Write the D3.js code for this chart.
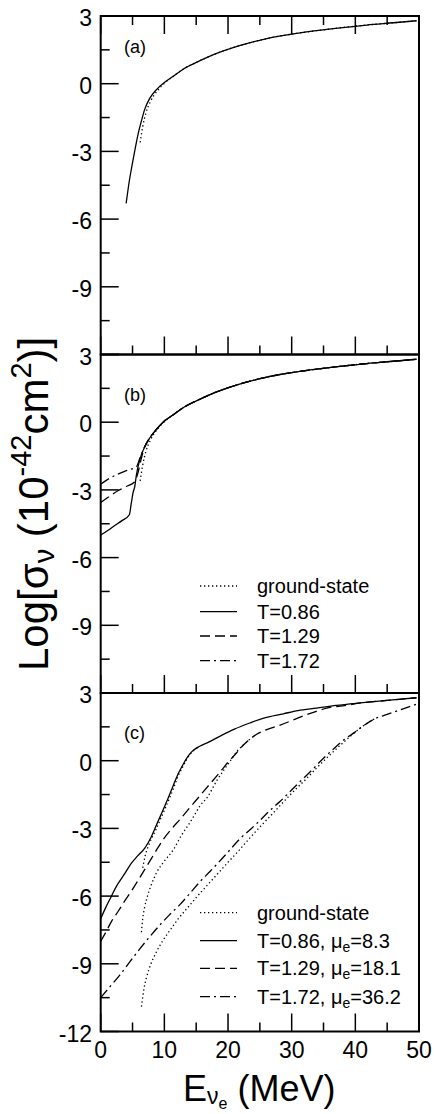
<!DOCTYPE html>
<html><head><meta charset="utf-8">
<script src="https://cdn.jsdelivr.net/npm/d3@7/dist/d3.min.js"></script>
<style>
body{margin:0;background:#fff}
svg{display:block}
text{font-family:"Liberation Sans",Arial,Helvetica,sans-serif;fill:#000}
</style>
</head><body>
<svg id="chart" width="437" height="1114"></svg>
<script>
// ---------------- data ----------------
const xMajorTicks = [0,10,20,30,40,50];
const xMinorTicks = [5,15,25,35,45];
const yMajorTicks = [3,0,-3,-6,-9,-12];
const yMinorTicks = [1.5,-1.5,-4.5,-7.5,-10.5];
const yLabelsAB = [3,0,-3,-6,-9];
const yLabelsC = [3,0,-3,-6,-9,-12];
const panelLabels = ["(a)","(b)","(c)"];

// shared high-energy branch (E, log sigma)
const upperBranch = [[11.4,0.33],[13,0.65],[15.6,1.02],[18,1.32],[20.8,1.6],[23.5,1.82],[26.1,2.0],[31.3,2.25],[36.5,2.44],[41.8,2.6],[46,2.7],[49.6,2.79]];

// panel (a)
const aSolid = [[4.0,-5.3],[4.5,-4.3],[4.9,-3.65],[5.4,-2.9],[5.9,-2.2],[6.4,-1.65],[6.9,-1.15],[7.7,-0.65],[8.8,-0.25],[10,0.05]];
const aGround = [[6.2,-2.6],[6.6,-1.9],[7.1,-1.3],[7.8,-0.8],[8.8,-0.35],[10,0.02]];

// panel (b)
const bSolid = [[0,-5.0],[1.1,-4.8],[2.2,-4.58],[3.4,-4.35],[4.5,-4.1],[4.8,-3.6],[5.1,-3.1],[5.35,-2.85],[5.6,-2.35],[6.1,-1.7],[6.9,-1.1],[7.7,-0.7],[8.8,-0.3],[10,0.05]];
const bDashed = [[0,-3.56],[1.3,-3.3],[2.7,-3.04],[4.0,-2.85],[5.3,-2.65],[5.8,-2.3],[6.3,-1.7],[6.9,-1.1],[7.7,-0.7],[8.8,-0.3],[10,0.05]];
const bDashDot = [[0,-2.75],[1.3,-2.5],[2.7,-2.3],[4.2,-2.13],[5.6,-1.98],[6.2,-1.55],[6.9,-1.1],[7.7,-0.7],[8.8,-0.3],[10,0.05]];
const bGround = [[6.2,-2.6],[6.6,-1.9],[7.1,-1.3],[7.8,-0.8],[8.8,-0.35],[10,0.02]];

// panel (c)
const cSolid = [[0,-7.0],[0.8,-6.5],[1.6,-6.05],[2.4,-5.6],[3.2,-5.25],[4.0,-4.9],[4.8,-4.55],[5.8,-4.22],[6.9,-3.88],[7.9,-3.4],[8.6,-2.95],[9.3,-2.5],[10.0,-2.05],[10.6,-1.65],[11.4,-1.1],[12.1,-0.62],[12.8,-0.24],[13.4,0.06],[14.0,0.3],[14.6,0.47],[15.3,0.6],[16.0,0.7],[16.8,0.8],[18.7,1.08],[21,1.4],[23.5,1.68],[25.5,1.88],[28.7,2.08],[31,2.22],[33.9,2.33],[37,2.45],[41.2,2.57],[45,2.67],[49.6,2.79]];
const cDashed = [[0,-8.0],[0.9,-7.55],[1.7,-7.12],[2.8,-6.65],[3.8,-6.2],[5.0,-5.7],[6.1,-5.2],[7.0,-4.78],[8.0,-4.32],[9.0,-3.85],[10,-3.42],[11.2,-3.0],[12.45,-2.6],[14,-2.08],[15.6,-1.55],[17.1,-1.05],[18.7,-0.52],[20,-0.07],[21.35,0.35],[22.5,0.72],[23.5,0.97],[24.5,1.17],[26,1.37],[28.1,1.57],[30.2,1.8],[32.3,2.04],[34,2.2],[35.5,2.33],[38,2.43],[41.2,2.57],[45,2.67],[49.6,2.79]];
const cDashDot = [[0,-10.5],[1.5,-10.0],[3,-9.5],[4.6,-8.9],[6.2,-8.32],[7.7,-7.8],[9.3,-7.28],[10.8,-6.83],[12.4,-6.39],[14,-5.88],[15.6,-5.36],[17.2,-4.9],[18.7,-4.45],[20.3,-3.95],[21.9,-3.45],[23.5,-3.05],[25,-2.65],[26.6,-2.2],[28.2,-1.8],[29.8,-1.35],[31.3,-0.93],[33,-0.47],[34.6,0.0],[36.3,0.45],[37.9,0.86],[39.6,1.2],[41.3,1.55],[43,1.85],[45,2.05],[47.5,2.3],[49.6,2.5]];
const cGround1 = [[6.6,-4.75],[7.0,-4.2],[7.6,-3.7],[8.6,-3.1],[9.3,-2.65],[10,-2.2],[10.6,-1.8],[11.4,-1.25],[12.1,-0.72],[12.8,-0.32],[13.4,0.0],[14.0,0.27],[14.6,0.45],[15.3,0.6]];
const cGround2 = [[6.4,-7.6],[6.6,-7.0],[6.9,-6.5],[7.4,-5.95],[7.95,-5.5],[8.8,-4.95],[10,-4.45],[11.4,-3.95],[12.7,-3.3],[14,-2.75],[14.75,-2.4],[15.6,-2.0],[16.8,-1.6],[18.2,-0.9],[19.5,-0.35],[20.5,0.05],[21.5,0.45],[22.5,0.72],[23.5,0.97]];
const cGround3 = [[6.4,-10.9],[6.8,-10.1],[7.2,-9.6],[7.9,-9.0],[8.7,-8.5],[9.7,-8.0],[10.8,-7.55],[12.2,-7.0],[13.7,-6.5],[15.2,-6.0],[16.8,-5.5],[18.4,-5.0],[20,-4.5],[21.8,-3.95],[23.5,-3.4],[25.3,-2.85],[27,-2.35],[28.8,-1.8],[30.5,-1.3],[32.3,-0.8],[34,-0.3],[35.8,0.2],[37.5,0.65],[39.3,1.1],[41,1.5],[43,1.85]];

const legendB = ["ground-state","T=0.86","T=1.29","T=1.72"];
const legendC = [["ground-state",null,null],["T=0.86, μ","e","=8.3"],["T=1.29, μ","e","=18.1"],["T=1.72, μ","e","=36.2"]];

// ---------------- drawing ----------------
const styles = {
  solid: null,
  dashed: "10,5",
  dashdot: "10,4,2,4",
  dotted: "1.3,2.7"
};
const svg = d3.select("#chart");
const X0 = 100.7, X1 = 419;
const panelTops = [16, 354.5, 693];
const panelH = 338.5;
const x = d3.scaleLinear().domain([0,50]).range([X0,X1]);

const panels = [
  {series:[[aGround.concat(upperBranch),"dotted"],[aSolid.concat(upperBranch),"solid"]], labels:yLabelsAB, topTicks:true},
  {series:[[bGround.concat(upperBranch),"dotted"],[bSolid.concat(upperBranch),"solid"],[bDashed.concat(upperBranch),"dashed"],[bDashDot.concat(upperBranch),"dashdot"]], labels:yLabelsAB, topTicks:false},
  {series:[[cGround1,"dotted"],[cGround2,"dotted"],[cGround3,"dotted"],[cSolid,"solid"],[cDashed,"dashed"],[cDashDot,"dashdot"]], labels:yLabelsC, topTicks:false}
];

panels.forEach((p,i)=>{
  const top = panelTops[i];
  const y = d3.scaleLinear().domain([-12,3]).range([top+panelH, top]);
  const g = svg.append("g");
  const clipId = "clip"+i;
  svg.append("clipPath").attr("id",clipId).append("rect")
    .attr("x",X0).attr("y",top).attr("width",X1-X0).attr("height",panelH);
  const line = d3.line().x(d=>x(d[0])).y(d=>y(d[1])).curve(d3.curveMonotoneX);
  const cg = g.append("g").attr("clip-path",`url(#${clipId})`);
  p.series.forEach(([data,st])=>{
    cg.append("path").attr("d",line(data)).attr("fill","none")
      .attr("stroke","#000").attr("stroke-width",1.3)
      .attr("stroke-dasharray",styles[st]);
  });
  // left ticks
  const ax = g.append("g").attr("stroke","#000").attr("stroke-width",1.5);
  yMajorTicks.forEach(v=>ax.append("line").attr("x1",X0).attr("x2",X0+18).attr("y1",y(v)).attr("y2",y(v)));
  yMinorTicks.forEach(v=>ax.append("line").attr("x1",X0).attr("x2",X0+9).attr("y1",y(v)).attr("y2",y(v)));
  // bottom ticks
  xMajorTicks.forEach(v=>ax.append("line").attr("x1",x(v)).attr("x2",x(v)).attr("y1",top+panelH).attr("y2",top+panelH-18));
  xMinorTicks.forEach(v=>ax.append("line").attr("x1",x(v)).attr("x2",x(v)).attr("y1",top+panelH).attr("y2",top+panelH-9));
  if(p.topTicks){
    xMajorTicks.forEach(v=>ax.append("line").attr("x1",x(v)).attr("x2",x(v)).attr("y1",top).attr("y2",top+18));
    xMinorTicks.forEach(v=>ax.append("line").attr("x1",x(v)).attr("x2",x(v)).attr("y1",top).attr("y2",top+9));
  }
  // frame
  g.append("rect").attr("x",X0).attr("y",top).attr("width",X1-X0).attr("height",panelH)
    .attr("fill","none").attr("stroke","#000").attr("stroke-width",2);
  // y labels
  p.labels.forEach(v=>{
    g.append("text").attr("x",92).attr("y",y(v)+10).attr("text-anchor","end")
      .attr("font-size",23).text(v);
  });
  // panel label
  const lblY = [53,401,739][i];
  g.append("text").attr("x",124).attr("y",lblY).attr("font-size",18).text(panelLabels[i]);
});

// x tick labels (bottom panel)
xMajorTicks.forEach(v=>{
  svg.append("text").attr("x",x(v)).attr("y",1058).attr("text-anchor","middle")
    .attr("font-size",23).text(v);
});

// legends
const legStyles = ["dotted","solid","dashed","dashdot"];
const legBRows = [586,611.7,636,660.7];
legendB.forEach((t,k)=>{
  svg.append("line").attr("x1",200).attr("x2",237).attr("y1",legBRows[k]).attr("y2",legBRows[k])
    .attr("stroke","#000").attr("stroke-width",1.3).attr("stroke-dasharray",styles[legStyles[k]]);
  svg.append("text").attr("x",257).attr("y",legBRows[k]+7).attr("font-size",20).text(t);
});
const legCRows = [912.7,940.7,968.3,996.7];
legendC.forEach((t,k)=>{
  svg.append("line").attr("x1",200).attr("x2",237).attr("y1",legCRows[k]).attr("y2",legCRows[k])
    .attr("stroke","#000").attr("stroke-width",1.3).attr("stroke-dasharray",styles[legStyles[k]]);
  const tx = svg.append("text").attr("x",257).attr("y",legCRows[k]+7).attr("font-size",20);
  tx.append("tspan").text(t[0]);
  if(t[1]){
    tx.append("tspan").attr("font-size",14).attr("dy",4).text(t[1]);
    tx.append("tspan").attr("dy",-4).text(t[2]);
  }
});

// axis titles
const yt = svg.append("text").attr("transform","translate(48,671) rotate(-90)")
  .attr("font-size",42);
yt.append("tspan").text("Log[σ");
yt.append("tspan").attr("font-size",29).attr("dy",6).text("ν");
yt.append("tspan").attr("dy",-6).text(" (10");
yt.append("tspan").attr("font-size",29).attr("dy",-17).text("-42");
yt.append("tspan").attr("dy",17).text("cm");
yt.append("tspan").attr("font-size",29).attr("dy",-17).text("2");
yt.append("tspan").attr("dy",17).text(")]");

const xt = svg.append("text").attr("x",183).attr("y",1101).attr("font-size",36);
xt.append("tspan").text("E");
xt.append("tspan").attr("font-size",23).attr("dy",3).text("ν");
xt.append("tspan").attr("font-size",16).attr("dy",5).text("e");
xt.append("tspan").attr("dy",-8).text(" (MeV)");
</script>
</body></html>
